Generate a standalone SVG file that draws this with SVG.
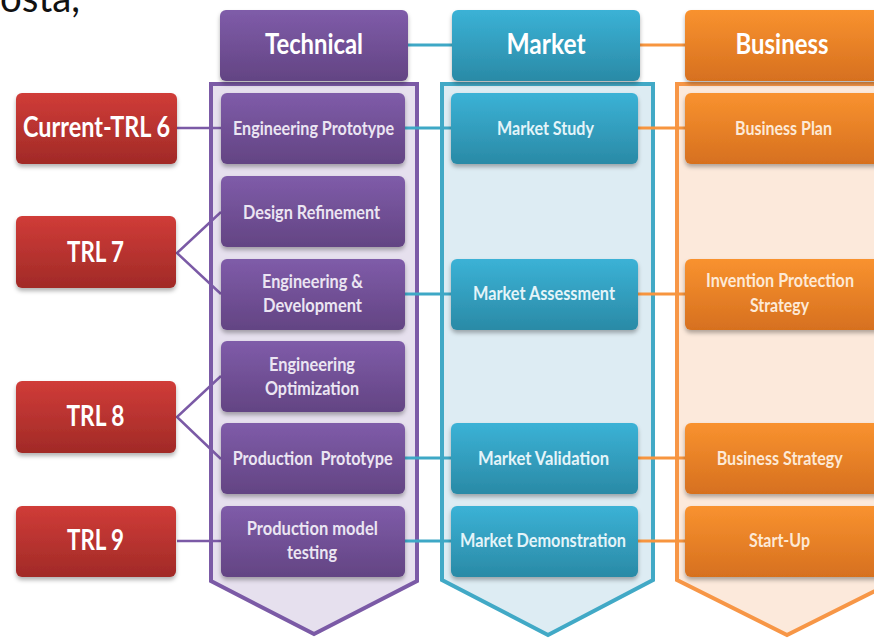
<svg xmlns="http://www.w3.org/2000/svg" width="874" height="639" viewBox="0 0 874 639">
<defs>
<linearGradient id="gPur" x1="0" y1="0" x2="0" y2="1"><stop offset="0" stop-color="#7f5ca9"/><stop offset="1" stop-color="#634483"/></linearGradient>
<linearGradient id="gTeal" x1="0" y1="0" x2="0" y2="1"><stop offset="0" stop-color="#3bb2d6"/><stop offset="1" stop-color="#2a8aa6"/></linearGradient>
<linearGradient id="gOra" x1="0" y1="0" x2="0" y2="1"><stop offset="0" stop-color="#f9922f"/><stop offset="1" stop-color="#d6701f"/></linearGradient>
<linearGradient id="gRed" x1="0" y1="0" x2="0" y2="1"><stop offset="0" stop-color="#d03c38"/><stop offset="1" stop-color="#a12a27"/></linearGradient>
<filter id="sh" x="-10%" y="-10%" width="120%" height="130%"><feDropShadow dx="0" dy="3" stdDeviation="2" flood-color="#000" flood-opacity="0.3"/></filter>
</defs>
<style>
text{font-family:Lato,"Liberation Sans",sans-serif;font-weight:bold;text-anchor:middle;lengthAdjust:spacingAndGlyphs}
.big{font-size:29px;fill:#ffffff}
.sm{font-size:18px}
.tp{fill:#ebe5f2}.tt{fill:#e4f4f9}.to{fill:#fde9d6}
.box{filter:url(#sh)}
.pur{fill:url(#gPur)}.teal{fill:url(#gTeal)}.ora{fill:url(#gOra)}.red{fill:url(#gRed)}
.cp{stroke:#7b5aa6;stroke-width:2.5;fill:none}
.ct{stroke:#3ea8c6;stroke-width:3;fill:none}
.co{stroke:#f7953f;stroke-width:3;fill:none}
</style>
<text x="0" y="12" style="font-family:Lato,'Liberation Sans',sans-serif;font-weight:normal;font-size:40px;fill:#111;text-anchor:start" textLength="80" lengthAdjust="spacingAndGlyphs">osta,</text>

<g id="containers">
<polygon id="col-technical" points="211,84 417,84 417,581 314,634 211,581" fill="#e6e0ee" stroke="#7b5aa6" stroke-width="4"/>
<polygon id="col-market" points="442,84 653,84 653,580 548,635 442,580" fill="#ddecf3" stroke="#41a9c6" stroke-width="4"/>
<polygon id="col-business" points="677,84 897,84 897,580 787,635 677,580" fill="#fce9db" stroke="#f79646" stroke-width="4"/>
</g>

<g id="connectors">
<line class="ct" x1="408" y1="45" x2="452" y2="45"/>
<line class="co" x1="640" y1="45" x2="685" y2="45"/>
<line class="cp" x1="177" y1="128" x2="222" y2="128"/>
<polyline class="cp" points="221,212 177,253 221,294"/>
<polyline class="cp" points="221,376 177,417 221,459"/>
<line class="cp" x1="177" y1="541" x2="222" y2="541"/>
<line class="ct" x1="405" y1="128" x2="451" y2="128"/>
<line class="ct" x1="405" y1="294" x2="451" y2="294"/>
<line class="ct" x1="405" y1="458" x2="451" y2="458"/>
<line class="ct" x1="405" y1="541" x2="451" y2="541"/>
<line class="co" x1="638" y1="128" x2="685" y2="128"/>
<line class="co" x1="638" y1="294" x2="685" y2="294"/>
<line class="co" x1="638" y1="458" x2="685" y2="458"/>
<line class="co" x1="638" y1="541" x2="685" y2="541"/>
</g>

<g id="hdr-technical"><rect class="box pur" x="220" y="10" width="188" height="71" rx="6"/><text class="big" x="314" y="54" textLength="98" lengthAdjust="spacingAndGlyphs">Technical</text></g>
<g id="hdr-market"><rect class="box teal" x="452" y="10" width="188" height="71" rx="6"/><text class="big" x="546" y="54" textLength="79" lengthAdjust="spacingAndGlyphs">Market</text></g>
<g id="hdr-business"><rect class="box ora" x="685" y="10" width="200" height="71" rx="6"/><text class="big" x="782" y="54" textLength="93" lengthAdjust="spacingAndGlyphs">Business</text></g>

<g id="trl6"><rect class="box red" x="16" y="93" width="161" height="71" rx="6"/><text class="big" x="96.5" y="137" textLength="147" lengthAdjust="spacingAndGlyphs">Current-TRL 6</text></g>
<g id="trl7"><rect class="box red" x="16" y="216" width="160" height="72" rx="6"/><text class="big" x="95.5" y="262" textLength="57" lengthAdjust="spacingAndGlyphs">TRL 7</text></g>
<g id="trl8"><rect class="box red" x="16" y="381" width="160" height="72" rx="6"/><text class="big" x="95.5" y="426" textLength="58" lengthAdjust="spacingAndGlyphs">TRL 8</text></g>
<g id="trl9"><rect class="box red" x="16" y="506" width="160" height="71" rx="6"/><text class="big" x="95.5" y="550" textLength="57" lengthAdjust="spacingAndGlyphs">TRL 9</text></g>

<g id="t-eng-prototype"><rect class="box pur" x="221" y="93" width="184" height="71" rx="6"/><text class="sm tp" x="313.5" y="135" textLength="161" lengthAdjust="spacingAndGlyphs">Engineering Prototype</text></g>
<g id="t-design-refinement"><rect class="box pur" x="221" y="176" width="184" height="71" rx="6"/><text class="sm tp" x="311.5" y="219" textLength="137" lengthAdjust="spacingAndGlyphs">Design Refinement</text></g>
<g id="t-eng-development"><rect class="box pur" x="221" y="259" width="184" height="71" rx="6"/><text class="sm tp" x="312.5" y="288" textLength="101" lengthAdjust="spacingAndGlyphs">Engineering &amp;</text><text class="sm tp" x="312.5" y="312" textLength="99" lengthAdjust="spacingAndGlyphs">Development</text></g>
<g id="t-eng-optimization"><rect class="box pur" x="221" y="341" width="184" height="71" rx="6"/><text class="sm tp" x="312" y="371" textLength="86" lengthAdjust="spacingAndGlyphs">Engineering</text><text class="sm tp" x="312" y="395" textLength="94" lengthAdjust="spacingAndGlyphs">Optimization</text></g>
<g id="t-production-prototype"><rect class="box pur" x="221" y="423" width="184" height="71" rx="6"/><text class="sm tp" x="312.7" y="464.5" textLength="160" lengthAdjust="spacingAndGlyphs" xml:space="preserve">Production  Prototype</text></g>
<g id="t-production-testing"><rect class="box pur" x="221" y="506" width="184" height="71" rx="6"/><text class="sm tp" x="312.3" y="535" textLength="131" lengthAdjust="spacingAndGlyphs">Production model</text><text class="sm tp" x="312" y="559" textLength="50" lengthAdjust="spacingAndGlyphs">testing</text></g>

<g id="m-study"><rect class="box teal" x="451" y="93" width="187" height="71" rx="6"/><text class="sm tt" x="545.5" y="135" textLength="97" lengthAdjust="spacingAndGlyphs">Market Study</text></g>
<g id="m-assessment"><rect class="box teal" x="451" y="259" width="187" height="71" rx="6"/><text class="sm tt" x="544" y="300" textLength="142" lengthAdjust="spacingAndGlyphs">Market Assessment</text></g>
<g id="m-validation"><rect class="box teal" x="451" y="423" width="187" height="71" rx="6"/><text class="sm tt" x="543.5" y="464.5" textLength="131" lengthAdjust="spacingAndGlyphs">Market Validation</text></g>
<g id="m-demonstration"><rect class="box teal" x="451" y="506" width="187" height="71" rx="6"/><text class="sm tt" x="543" y="547" textLength="166" lengthAdjust="spacingAndGlyphs">Market Demonstration</text></g>

<g id="b-plan"><rect class="box ora" x="685" y="93" width="200" height="71" rx="6"/><text class="sm to" x="783.5" y="135" textLength="97" lengthAdjust="spacingAndGlyphs">Business Plan</text></g>
<g id="b-invention"><rect class="box ora" x="685" y="259" width="200" height="71" rx="6"/><text class="sm to" x="780" y="287" textLength="148" lengthAdjust="spacingAndGlyphs">Invention Protection</text><text class="sm to" x="779.5" y="312" textLength="59" lengthAdjust="spacingAndGlyphs">Strategy</text></g>
<g id="b-strategy"><rect class="box ora" x="685" y="423" width="200" height="71" rx="6"/><text class="sm to" x="779.7" y="465" textLength="126" lengthAdjust="spacingAndGlyphs">Business Strategy</text></g>
<g id="b-startup"><rect class="box ora" x="685" y="506" width="200" height="71" rx="6"/><text class="sm to" x="779.5" y="547" textLength="61" lengthAdjust="spacingAndGlyphs">Start-Up</text></g>
</svg>
